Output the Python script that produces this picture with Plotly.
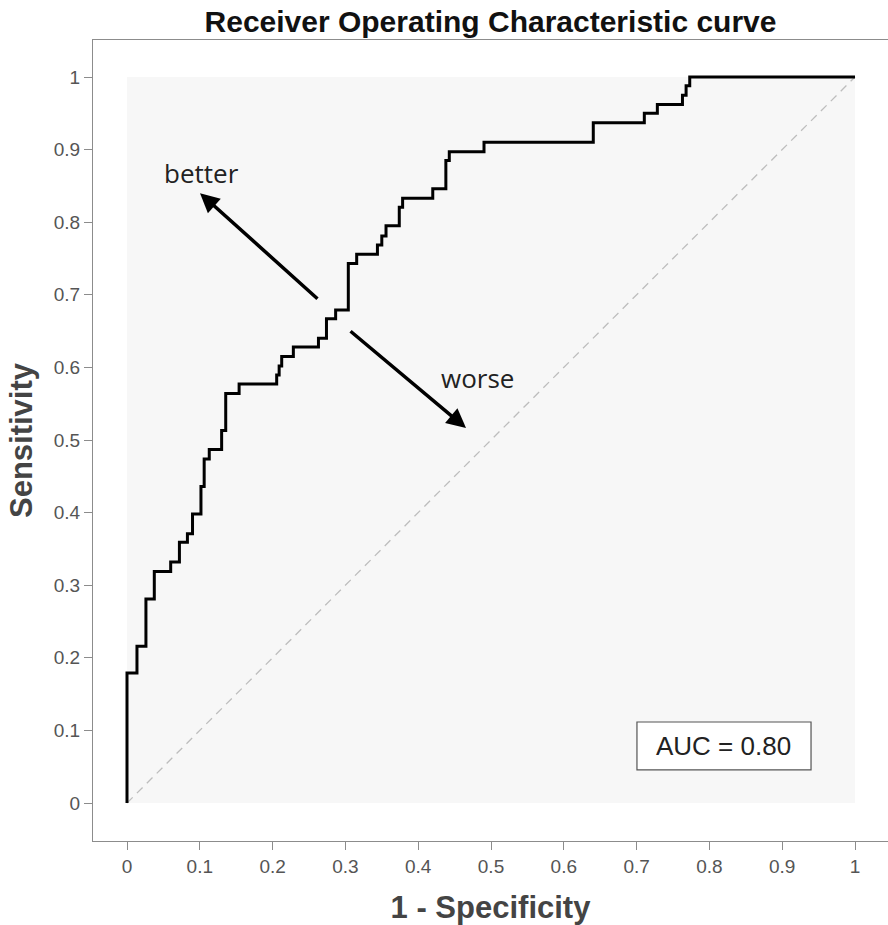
import plotly.graph_objects as go

# ROC step curve: (1 - specificity) at each riser, sensitivity at its top
fpr = [0.0, 0.0, 0.0137, 0.026, 0.0375, 0.060, 0.072, 0.083, 0.090, 0.1016,
       0.106, 0.113, 0.130, 0.1356, 0.154, 0.2056, 0.209, 0.2125, 0.2285, 0.263,
       0.274, 0.2866, 0.304, 0.3155, 0.344, 0.350, 0.3558, 0.374, 0.3786, 0.420,
       0.438, 0.4427, 0.4904, 0.6405, 0.7106, 0.7285, 0.763, 0.768, 0.773, 1.0]
tpr = [0.0, 0.179, 0.216, 0.281, 0.319, 0.332, 0.359, 0.371, 0.398, 0.436,
       0.474, 0.487, 0.513, 0.564, 0.577, 0.5895, 0.602, 0.615, 0.628, 0.640,
       0.667, 0.679, 0.743, 0.756, 0.7686, 0.781, 0.795, 0.8205, 0.833, 0.846,
       0.885, 0.897, 0.910, 0.937, 0.950, 0.962, 0.975, 0.988, 1.0, 1.0]
diag = [0, 1]
tick_vals = [0, 0.1, 0.2, 0.3, 0.4, 0.5, 0.6, 0.7, 0.8, 0.9, 1]
tick_text = ["0", "0.1", "0.2", "0.3", "0.4", "0.5", "0.6", "0.7", "0.8", "0.9", "1"]
auc = 0.80

fig = go.Figure()
fig.add_trace(go.Scatter(x=diag, y=diag, mode="lines",
                         line=dict(color="#bdbdbd", width=1.3, dash="8px,6px"),
                         hoverinfo="skip", showlegend=False))
fig.add_trace(go.Scatter(x=fpr, y=tpr, mode="lines", line_shape="hv",
                         line=dict(color="black", width=3), showlegend=False))

# shaded unit square
fig.add_shape(type="rect", xref="x", yref="y", x0=0, y0=0, x1=1, y1=1,
              fillcolor="#f7f7f7", line_width=0, layer="below")
# AUC box
fig.add_shape(type="rect", xref="x", yref="y", x0=0.7005, y0=0.0455, x1=0.9396, y1=0.1116,
              fillcolor="white", line=dict(color="#555", width=1.2), layer="above")
fig.add_annotation(x=0.8200, y=0.0785, xref="x", yref="y", text=f"AUC = {auc:.2f}",
                   showarrow=False, font=dict(family="Arial", size=26, color="#222"))

# arrows
fig.add_annotation(x=0.1003, y=0.840, ax=0.2637, ay=0.6928, xref="x", yref="y",
                   axref="x", ayref="y", text="", showarrow=True, arrowhead=2,
                   arrowsize=1.1, arrowwidth=3.5, arrowcolor="black")
fig.add_annotation(x=0.4657, y=0.5165, ax=0.305, ay=0.6515, xref="x", yref="y",
                   axref="x", ayref="y", text="", showarrow=True, arrowhead=2,
                   arrowsize=1.1, arrowwidth=3.5, arrowcolor="black")
fig.add_annotation(x=0.103, y=0.868, xref="x", yref="y", text="better", showarrow=False,
                   font=dict(family="Open Sans", size=26, color="#222"))
fig.add_annotation(x=0.482, y=0.585, xref="x", yref="y", text="worse", showarrow=False,
                   font=dict(family="Open Sans", size=26, color="#222"))

axis_common = dict(showgrid=False, zeroline=False, showline=True, linecolor="#8c8c8c",
                   linewidth=1.3, ticks="outside", ticklen=8, tickcolor="#8c8c8c",
                   tickwidth=1.3, tickvals=tick_vals, ticktext=tick_text,
                   tickfont=dict(family="Arial", size=19, color="#555"))

fig.update_layout(
    width=888, height=925,
    margin=dict(l=93, r=0, t=40, b=84),
    paper_bgcolor="white", plot_bgcolor="white",
    title=dict(text="<b>Receiver Operating Characteristic curve</b>",
               x=0.5, xref="paper", xanchor="center",
               y=1 - 21 / 925, yref="container", yanchor="middle",
               font=dict(family="Arial", size=30, color="#111")),
    xaxis=dict(range=[-34 / 728, 1 + 33 / 728], mirror=True,
               title=dict(text="<b>1 - Specificity</b>", standoff=21,
                          font=dict(family="Arial", size=31, color="#444")),
               **axis_common),
    yaxis=dict(range=[-38 / 726, 1 + 37 / 726], mirror=False,
               title=dict(text="<b>Sensitivity</b>", standoff=11,
                          font=dict(family="Arial", size=31, color="#444")),
               **axis_common),
)

fig.write_html("out.html", config={"displayModeBar": False},
               post_script="document.body.style.margin='0';document.body.style.overflow='hidden';")
